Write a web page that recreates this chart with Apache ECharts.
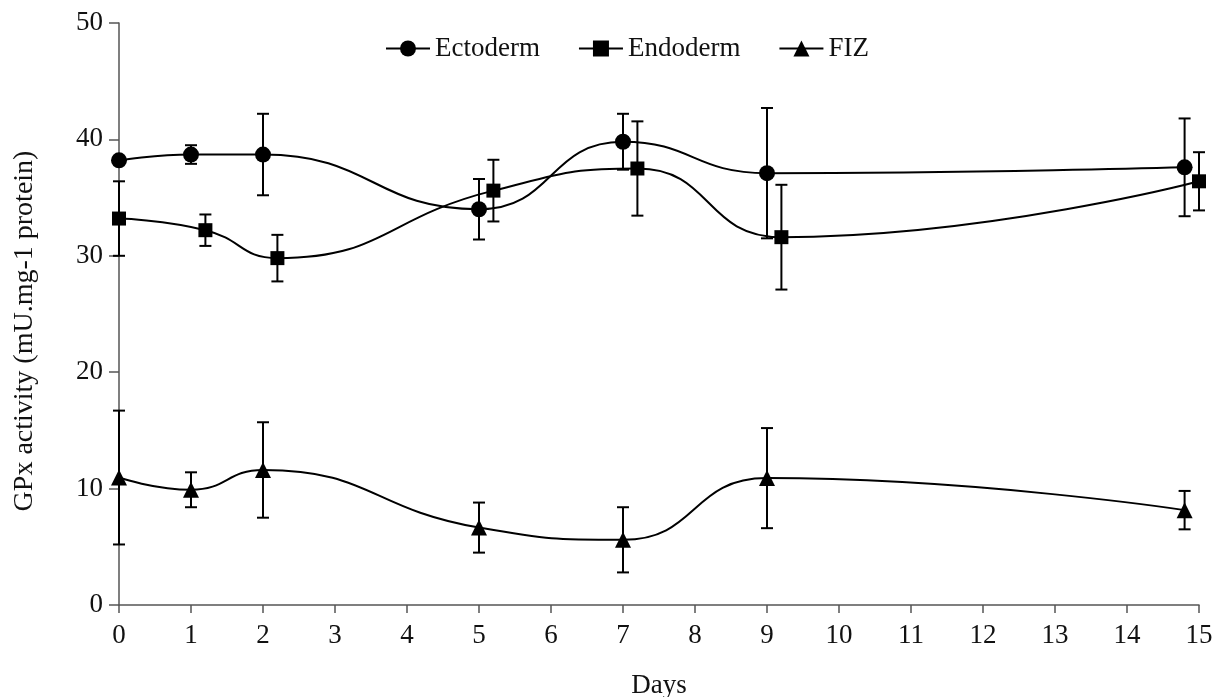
<!DOCTYPE html>
<html>
<head>
<meta charset="utf-8">
<script src="https://cdn.jsdelivr.net/npm/echarts@6/dist/echarts.min.js"></script>
<style>
html,body{margin:0;padding:0;background:#fff;}
#chart{width:1223px;height:697px;}
</style>
</head>
<body>
<div id="chart"></div>
<script>
// Data (x positions as plotted, mean, error)
var ectoDays = [0, 1, 2, 5, 7, 9, 14.8];
var ectoMean = [38.2, 38.7, 38.7, 34.0, 39.8, 37.1, 37.6];
var ectoErr  = [0, 0.8, 3.5, 2.6, 2.4, 5.6, 4.2];

var endoDays = [0, 1.2, 2.2, 5.2, 7.2, 9.2, 15];
var endoMean = [33.2, 32.2, 29.8, 35.6, 37.5, 31.6, 36.4];
var endoErr  = [3.2, 1.35, 2.0, 2.65, 4.05, 4.5, 2.5];

var fizDays = [0, 1, 2, 5, 7, 9, 14.8];
var fizMean = [10.95, 9.9, 11.6, 6.65, 5.6, 10.9, 8.15];
var fizErr  = [5.75, 1.5, 4.1, 2.15, 2.8, 4.3, 1.65];

var seriesNames = ['Ectoderm', 'Endoderm', 'FIZ'];
var xTicks = [0,1,2,3,4,5,6,7,8,9,10,11,12,13,14,15];
var yTicks = [0,10,20,30,40,50];

var FONT = 'Liberation Serif';

function pts(days, mean){
  return days.map(function(d,i){ return [d, mean[i]]; });
}
function errs(days, mean, err){
  return days.map(function(d,i){ return [d, mean[i]-err[i], mean[i]+err[i]]; });
}

function errRender(params, api){
  var x = api.value(0);
  var lo = api.coord([x, api.value(1)]);
  var hi = api.coord([x, api.value(2)]);
  var hw = 6;
  var st = {stroke:'#000', lineWidth:2};
  if (Math.abs(hi[1]-lo[1]) < 1) return {type:'group', children:[]};
  return {
    type:'group',
    children:[
      {type:'line', shape:{x1:lo[0],y1:lo[1],x2:hi[0],y2:hi[1]}, style:st},
      {type:'line', shape:{x1:hi[0]-hw,y1:hi[1],x2:hi[0]+hw,y2:hi[1]}, style:st},
      {type:'line', shape:{x1:lo[0]-hw,y1:lo[1],x2:lo[0]+hw,y2:lo[1]}, style:st}
    ]
  };
}

function lineSeries(name, days, mean, symbol, size){
  return {
    name:name, type:'line', data:pts(days, mean),
    smooth:0.5, symbol:symbol, symbolSize:size,
    itemStyle:{color:'#000'},
    lineStyle:{color:'#000', width:2},
    z:3, animation:false
  };
}
function errSeries(days, mean, err){
  return {
    type:'custom', renderItem:errRender, data:errs(days, mean, err),
    encode:{x:0, y:[1,2]}, z:2, silent:true, animation:false
  };
}

var chart = echarts.init(document.getElementById('chart'));
chart.setOption({
  backgroundColor:'#fff',
  animation:false,
  textStyle:{fontFamily:FONT},
  grid:{left:119, right:24, top:23, bottom:92, containLabel:false, outerBoundsMode:'none'},
  legend:{
    data:seriesNames,
    left:380, top:30,
    itemWidth:44, itemHeight:20, itemGap:38,
    textStyle:{fontFamily:FONT, fontSize:27, color:'#111'}
  },
  xAxis:{
    type:'value', min:0, max:15, interval:1,
    name:'Days', nameLocation:'middle', nameGap:67,
    nameTextStyle:{fontFamily:FONT, fontSize:27, color:'#111'},
    axisLine:{lineStyle:{color:'#555', width:1.5}},
    axisTick:{length:8, lineStyle:{color:'#555', width:1.5}},
    axisLabel:{fontFamily:FONT, fontSize:27, color:'#111', margin:17,
      formatter:function(v){ return xTicks.indexOf(v)>=0 ? String(v) : ''; }},
    splitLine:{show:false}
  },
  yAxis:{
    type:'value', min:0, max:50, interval:10,
    name:'GPx activity (mU.mg-1 protein)', nameLocation:'middle', nameGap:80,
    nameTextStyle:{fontFamily:FONT, fontSize:28, color:'#111', padding:[0,34,0,0]},
    axisLine:{show:true, lineStyle:{color:'#555', width:1.5}},
    axisTick:{show:true, length:10, lineStyle:{color:'#555', width:1.5}},
    axisLabel:{fontFamily:FONT, fontSize:27, color:'#111', margin:16,
      formatter:function(v){ return yTicks.indexOf(v)>=0 ? String(v) : ''; }},
    splitLine:{show:false}
  },
  series:[
    errSeries(ectoDays, ectoMean, ectoErr),
    errSeries(endoDays, endoMean, endoErr),
    errSeries(fizDays, fizMean, fizErr),
    lineSeries('Ectoderm', ectoDays, ectoMean, 'circle', 16),
    lineSeries('Endoderm', endoDays, endoMean, 'rect', 14),
    lineSeries('FIZ', fizDays, fizMean, 'triangle', 16)
  ]
});
</script>
</body>
</html>
